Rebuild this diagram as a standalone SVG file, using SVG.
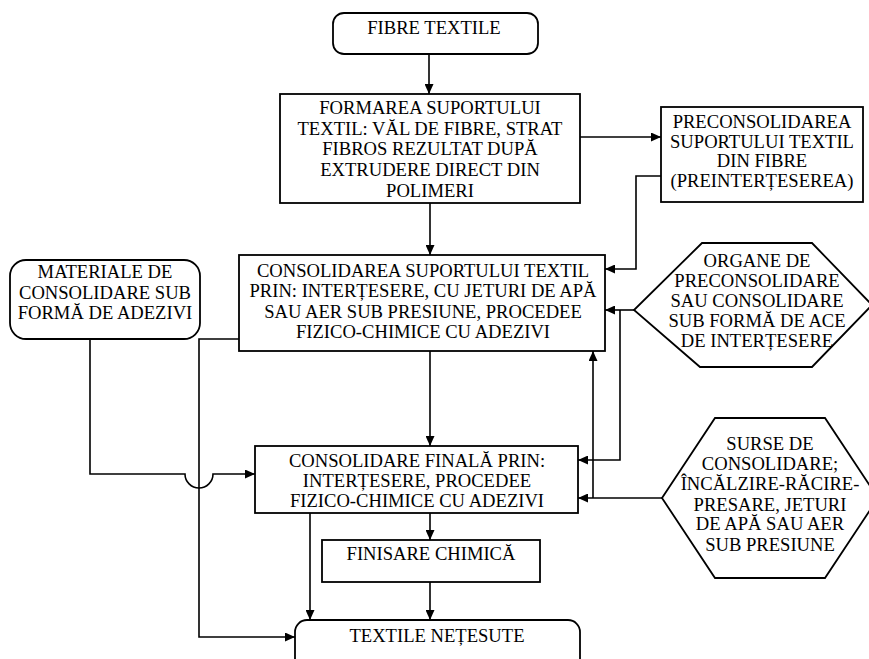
<svg xmlns="http://www.w3.org/2000/svg" width="869" height="659" viewBox="0 0 869 659">
  <style>
    .box { fill: #fff; stroke: #000; stroke-width: 1.8; }
    .t { font-family: 'Liberation Serif', 'Times New Roman', 'DejaVu Serif', serif; font-size: 18.6px; fill: #000; text-anchor: middle; }
    .wire { fill: none; stroke: #000; stroke-width: 1.6; }
  </style>
  <defs>
    <marker id="arr" markerUnits="userSpaceOnUse" markerWidth="10" markerHeight="9" refX="10" refY="4.5" orient="auto">
      <path d="M0,0 L10,4.5 L0,9 z" fill="#000"/>
    </marker>
  </defs>
  <rect width="869" height="659" fill="#fff"/>

  <g id="connectors">
    <path class="wire" d="M429,54 V94" marker-end="url(#arr)"/>
    <path class="wire" d="M580,137 H661" marker-end="url(#arr)"/>
    <path class="wire" d="M661,176 H636 V269 H605" marker-end="url(#arr)"/>
    <path class="wire" d="M430,203 V255" marker-end="url(#arr)"/>
    <path class="wire" d="M634,310 H605" marker-end="url(#arr)"/>
    <path class="wire" d="M620,310 V460 H578" marker-end="url(#arr)"/>
    <path class="wire" d="M662,498 H578" marker-end="url(#arr)"/>
    <path class="wire" d="M593,498 V351" marker-end="url(#arr)"/>
    <path class="wire" d="M430,351 V446" marker-end="url(#arr)"/>
    <path class="wire" d="M90,339 V474 H185 A14,14 0 0 0 213,474 H255" marker-end="url(#arr)"/>
    <path class="wire" d="M239,339 H199 V637 H295" marker-end="url(#arr)"/>
    <path class="wire" d="M310,513 V620" marker-end="url(#arr)"/>
    <path class="wire" d="M430,513 V540" marker-end="url(#arr)"/>
    <path class="wire" d="M430,582 V620" marker-end="url(#arr)"/>
  </g>

  <g id="fibre-textile">
    <rect class="box" x="333" y="13" width="205" height="41" rx="11"/>
    <text class="t" x="434" y="34">FIBRE TEXTILE</text>
  </g>

  <g id="formarea">
    <rect class="box" x="280" y="94" width="300" height="109"/>
    <text class="t" x="430" y="114">FORMAREA SUPORTULUI</text>
    <text class="t" x="430" y="135">TEXTIL: VĂL DE FIBRE, STRAT</text>
    <text class="t" x="430" y="155">FIBROS REZULTAT DUPĂ</text>
    <text class="t" x="430" y="176">EXTRUDERE DIRECT DIN</text>
    <text class="t" x="430" y="197">POLIMERI</text>
  </g>

  <g id="preconsolidarea">
    <rect class="box" x="661" y="107" width="202" height="95"/>
    <text class="t" x="762" y="128">PRECONSOLIDAREA</text>
    <text class="t" x="762" y="148">SUPORTULUI TEXTIL</text>
    <text class="t" x="762" y="167">DIN FIBRE</text>
    <text class="t" x="762" y="187">(PREINTERȚESEREA)</text>
  </g>

  <g id="materiale">
    <rect class="box" x="10" y="260" width="190" height="79" rx="16"/>
    <text class="t" x="105" y="278">MATERIALE DE</text>
    <text class="t" x="105" y="299">CONSOLIDARE SUB</text>
    <text class="t" x="105" y="319">FORMĂ DE ADEZIVI</text>
  </g>

  <g id="consolidarea">
    <rect class="box" x="239" y="255" width="366" height="96"/>
    <text class="t" x="423" y="277">CONSOLIDAREA SUPORTULUI TEXTIL</text>
    <text class="t" x="423" y="297">PRIN: INTERȚESERE, CU JETURI DE APĂ</text>
    <text class="t" x="423" y="318">SAU AER SUB PRESIUNE, PROCEDEE</text>
    <text class="t" x="423" y="338">FIZICO-CHIMICE CU ADEZIVI</text>
  </g>

  <g id="organe">
    <polygon class="box" points="702,243 812,243 872,305 812,367 700,367 634,310"/>
    <text class="t" x="757" y="267">ORGANE DE</text>
    <text class="t" x="757" y="287">PRECONSOLIDARE</text>
    <text class="t" x="757" y="307">SAU CONSOLIDARE</text>
    <text class="t" x="757" y="327">SUB FORMĂ DE ACE</text>
    <text class="t" x="757" y="347">DE INTERȚESERE</text>
  </g>

  <g id="consolidare-finala">
    <rect class="box" x="255" y="446" width="323" height="67"/>
    <text class="t" x="417" y="467">CONSOLIDARE FINALĂ PRIN:</text>
    <text class="t" x="417" y="487">INTERȚESERE, PROCEDEE</text>
    <text class="t" x="417" y="507">FIZICO-CHIMICE CU ADEZIVI</text>
  </g>

  <g id="surse">
    <polygon class="box" points="715,418 825,418 878,498 825,578 715,578 662,498"/>
    <text class="t" x="770" y="450">SURSE DE</text>
    <text class="t" x="770" y="470">CONSOLIDARE;</text>
    <text class="t" x="770" y="490">ÎNCĂLZIRE-RĂCIRE-</text>
    <text class="t" x="770" y="511">PRESARE, JETURI</text>
    <text class="t" x="770" y="530">DE APĂ SAU AER</text>
    <text class="t" x="770" y="551">SUB PRESIUNE</text>
  </g>

  <g id="finisare">
    <rect class="box" x="322" y="540" width="218" height="42"/>
    <text class="t" x="431" y="560">FINISARE CHIMICĂ</text>
  </g>

  <g id="textile-netesute">
    <rect class="box" x="295" y="620" width="285" height="60" rx="12"/>
    <text class="t" x="437" y="642">TEXTILE NEȚESUTE</text>
  </g>
</svg>
